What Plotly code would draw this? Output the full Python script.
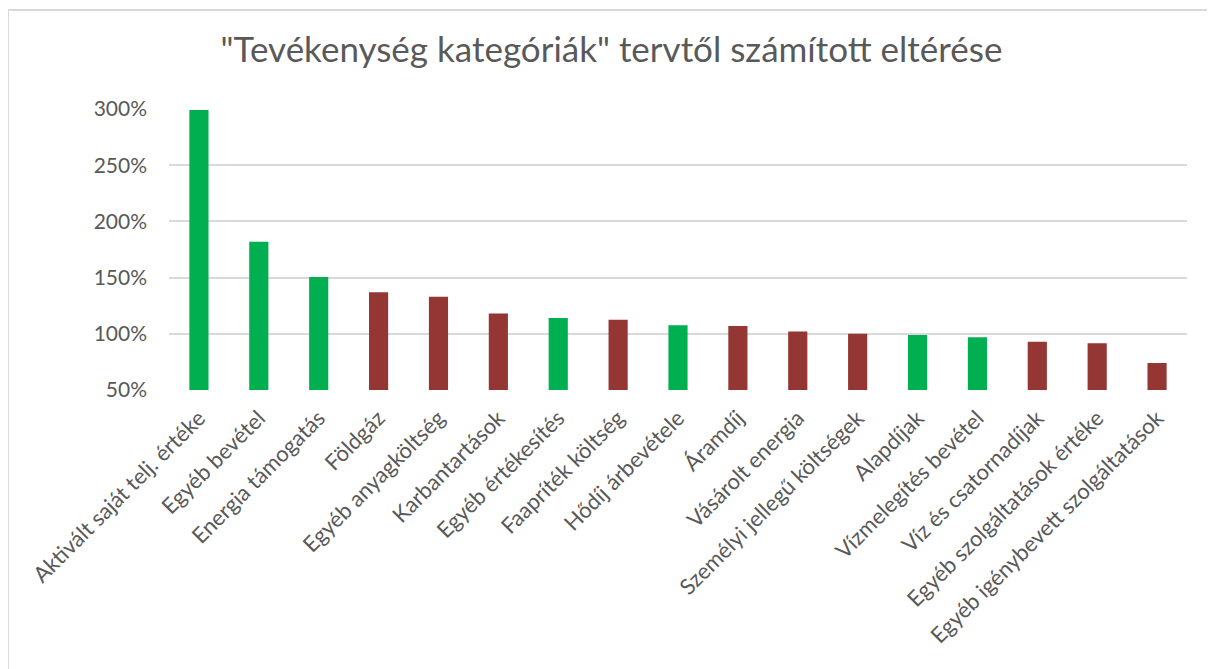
import plotly.graph_objects as go

# Kategóriák és a tervtől számított eltérés (%)
categories = [
    "Aktivált saját telj. értéke", "Egyéb bevétel", "Energia támogatás", "Földgáz",
    "Egyéb anyagköltség", "Karbantartások", "Egyéb értékesítés", "Faapríték költség",
    "Hődíj árbevétele", "Áramdíj", "Vásárolt energia", "Személyi jellegű költségek",
    "Alapdíjak", "Vízmelegítés bevétel", "Víz és csatornadíjak",
    "Egyéb szolgáltatások értéke", "Egyéb igénybevett szolgáltatások",
]
values = [299, 182, 150.5, 137, 133, 118, 114, 112.5, 107.5, 107, 102, 100, 99, 97, 93, 91.5, 74]
kinds = ["bevétel", "bevétel", "bevétel", "költség", "költség", "költség", "bevétel", "költség",
         "bevétel", "költség", "költség", "költség", "bevétel", "bevétel", "költség",
         "költség", "költség"]
y_ticks = [50, 100, 150, 200, 250, 300]

palette = {"bevétel": "#00B050", "költség": "#943634"}
font_family = "Lato, 'Open Sans', sans-serif"
text_color = "#595959"

fig = go.Figure(go.Bar(
    x=categories,
    y=values,
    base=0,
    marker=dict(color=[palette[k] for k in kinds], line=dict(width=0)),
    hovertemplate="%{x}: %{y}%<extra></extra>",
))

# the page puts the figure 8px in from the top-left corner
W, H = 1207, 661
L, R, T, B = 161, 28, 101, 279
pw, ph = W - L - R, H - T - B

def px_x(x):
    return (x - L) / pw

def px_y(y):
    return (H - B - y) / ph

border = dict(color="#D9D9D9", width=2)
fig.update_layout(
    width=W, height=H,
    margin=dict(l=L, r=R, t=T, b=B),
    paper_bgcolor="white",
    plot_bgcolor="white",
    font=dict(family=font_family, color=text_color, size=21),
    title=dict(
        text='"Tevékenység kategóriák" tervtől számított eltérése',
        x=0.5, xanchor="center", xref="container",
        y=1 - 42 / H, yanchor="middle", yref="container",
        font=dict(size=35, color=text_color, family=font_family),
    ),
    bargap=0.68,
    showlegend=False,
    shapes=[
        dict(type="line", xref="paper", yref="paper", layer="below",
             x0=px_x(0), x1=px_x(0), y0=px_y(2), y1=px_y(H), line=border),
        dict(type="line", xref="paper", yref="paper", layer="below",
             x0=px_x(0), x1=px_x(W), y0=px_y(2), y1=px_y(2), line=border),
    ],
)
fig.update_xaxes(
    tickangle=-45,
    tickfont=dict(size=22, color=text_color),
    showgrid=False,
    showline=False,
    ticks="",
    ticklabelstandoff=10,
    automargin=False,
)
fig.update_yaxes(
    range=[50, 300],
    tickvals=y_ticks,
    ticktext=[f"{v}%" for v in y_ticks],
    tickfont=dict(size=21, color=text_color),
    gridcolor="#D9D9D9",
    gridwidth=1.5,
    zeroline=False,
    showline=False,
    ticks="",
    ticklabelstandoff=21,
    automargin=False,
)

fig.write_html("out.html")
